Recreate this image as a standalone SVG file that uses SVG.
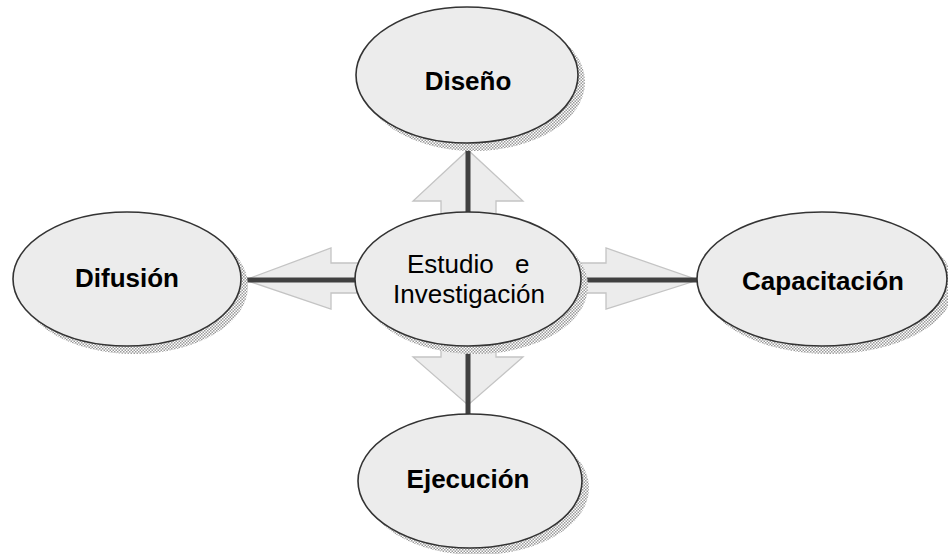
<svg xmlns="http://www.w3.org/2000/svg" width="948" height="554" viewBox="0 0 948 554">
<defs>
<pattern id="chk" width="3" height="3" patternUnits="userSpaceOnUse">
<rect width="3" height="3" fill="#ffffff"/>
<rect width="1.5" height="1.5" fill="#9a9a9a"/>
<rect x="1.5" y="1.5" width="1.5" height="1.5" fill="#9a9a9a"/>
</pattern>
</defs>
<style>
.shadow{fill:url(#chk);stroke:none}
.node{fill:#ececec;stroke:#333333;stroke-width:1.6}
.arrow{fill:#ececec;stroke:#c4c4c4;stroke-width:1.3}
.line{stroke:#404040;stroke-width:5;fill:none}
.lbl{font-family:"Liberation Sans",Arial,sans-serif;font-size:26px;fill:#000;text-anchor:middle}
.b{font-weight:bold}
</style>
<g id="connectors">
<polygon class="arrow" points="441,279 441,201 413,201 468,150 523,201 496,201 496,279"/>
<polygon class="arrow" points="468,263 331,263 331,248 245,280 331,309 331,293 468,293"/>
<polygon class="arrow" points="468,263 606,263 606,248 698,280 606,309 606,293 468,293"/>
<polygon class="arrow" points="441,279 441,357 413,357 468,405 523,357 496,357 496,279"/>
<line class="line" x1="468" y1="144" x2="468" y2="212"/>
<line class="line" x1="241" y1="280" x2="356" y2="280"/>
<line class="line" x1="581" y1="280" x2="697" y2="280"/>
<line class="line" x1="468" y1="346" x2="468" y2="414"/>
</g>
<g id="diseno">
<ellipse class="shadow" cx="474" cy="82" rx="111" ry="69"/>
<ellipse class="node" cx="467" cy="75" rx="111" ry="68"/>
<text class="lbl b" x="468" y="90">Diseño</text>
</g>
<g id="difusion">
<ellipse class="shadow" cx="134" cy="286" rx="114" ry="68"/>
<ellipse class="node" cx="127" cy="279" rx="114" ry="67"/>
<text class="lbl b" x="127" y="287">Difusión</text>
</g>
<g id="estudio">
<ellipse class="shadow" cx="475" cy="286" rx="113" ry="68"/>
<ellipse class="node" cx="468" cy="279" rx="113" ry="67"/>
<text class="lbl" style="text-anchor:start"><tspan x="407" y="273">Estudio</tspan><tspan x="515" y="273">e</tspan></text>
<text class="lbl" x="469" y="303">Investigación</text>
</g>
<g id="capacitacion">
<ellipse class="shadow" cx="829" cy="286" rx="125" ry="68"/>
<ellipse class="node" cx="822" cy="279" rx="125" ry="67"/>
<text class="lbl b" x="823" y="290">Capacitación</text>
</g>
<g id="ejecucion">
<ellipse class="shadow" cx="477" cy="488" rx="112" ry="67"/>
<ellipse class="node" cx="470" cy="481" rx="112" ry="67"/>
<text class="lbl b" x="468" y="488">Ejecución</text>
</g>
</svg>
